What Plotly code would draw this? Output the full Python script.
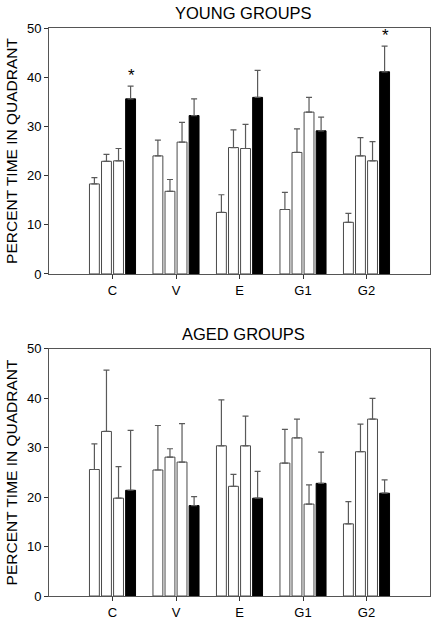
import plotly.graph_objects as go

categories = ["C", "V", "E", "G1", "G2"]

# Young groups: four series (three white, last black)
young_s1 = [18.3, 24.0, 12.5, 13.1, 10.5]
young_s1_err = [1.3, 3.2, 3.6, 3.5, 1.8]
young_s2 = [22.9, 16.8, 25.7, 24.7, 24.0]
young_s2_err = [1.4, 2.4, 3.6, 4.8, 3.7]
young_s3 = [23.0, 26.8, 25.5, 32.9, 23.0]
young_s3_err = [2.5, 4.0, 4.9, 3.0, 3.9]
young_s4 = [35.6, 32.2, 35.9, 29.1, 41.1]
young_s4_err = [2.6, 3.4, 5.5, 2.8, 5.2]
young_stars = ["*", "", "", "", "*"]

# Aged groups
aged_s1 = [25.6, 25.5, 30.4, 26.9, 14.6]
aged_s1_err = [5.2, 9.0, 9.3, 6.8, 4.5]
aged_s2 = [33.3, 28.1, 22.2, 32.0, 29.2]
aged_s2_err = [12.4, 1.7, 2.4, 3.8, 5.6]
aged_s3 = [19.8, 27.1, 30.4, 18.6, 35.8]
aged_s3_err = [6.4, 7.8, 6.0, 3.9, 4.2]
aged_s4 = [21.4, 18.3, 19.8, 22.8, 20.8]
aged_s4_err = [12.1, 1.8, 5.4, 6.3, 2.7]

panel_titles = ["YOUNG GROUPS", "AGED GROUPS"]
y_title = "PERCENT TIME IN QUADRANT"

FONT = "Liberation Sans, Arial, sans-serif"
EDGE = "#4a4a4a"
ERRC = "#5a5a5a"

fig = go.Figure()

def add_panel(series, errs, xa, ya):
    fills = ["white", "white", "white", "black"]
    for i, (vals, err) in enumerate(zip(series, errs)):
        fig.add_trace(go.Bar(
            x=categories, y=vals,
            marker=dict(color=fills[i], line=dict(color=EDGE if i < 3 else "black", width=1)),
            error_y=dict(type="data", array=err, symmetric=False, arrayminus=[0] * len(err),
                         color=ERRC, thickness=1.2, width=3),
            offsetgroup=f"{ya}{i}", xaxis=xa, yaxis=ya, showlegend=False,
        ))

add_panel([young_s1, young_s2, young_s3, young_s4],
          [young_s1_err, young_s2_err, young_s3_err, young_s4_err], "x", "y")
add_panel([aged_s1, aged_s2, aged_s3, aged_s4],
          [aged_s1_err, aged_s2_err, aged_s3_err, aged_s4_err], "x2", "y2")

axis_common = dict(showline=True, linecolor="#555", linewidth=1, mirror=True,
                   ticks="outside", ticklen=4, tickcolor="#333", automargin=False,
                   tickfont=dict(family=FONT, size=13, color="black"),
                   showgrid=False, zeroline=False)

fig.update_layout(
    width=432, height=618,
    margin=dict(l=49, r=2, t=28, b=22),
    paper_bgcolor="white", plot_bgcolor="white",
    barmode="group", bargap=0.24, bargroupgap=0.18,
    font=dict(family=FONT, color="black"),
    xaxis=dict(domain=[0, 1], anchor="y", range=[-1, 5], **axis_common),
    yaxis=dict(domain=[0.567, 1.0], anchor="x", range=[0, 50], dtick=10, **axis_common,
               title=dict(text=y_title, font=dict(family=FONT, size=15.5), standoff=5)),
    xaxis2=dict(domain=[0, 1], anchor="y2", range=[-1, 5], **axis_common),
    yaxis2=dict(domain=[0, 0.435], anchor="x2", range=[0, 50], dtick=10, **axis_common,
                title=dict(text=y_title, font=dict(family=FONT, size=15.5), standoff=5)),
)

# panel titles
fig.add_annotation(text=panel_titles[0], xref="paper", yref="paper", x=0.51, y=1.0,
                   yanchor="bottom", yshift=4, showarrow=False, font=dict(family=FONT, size=16.5))
fig.add_annotation(text=panel_titles[1], xref="paper", yref="paper", x=0.51, y=0.435,
                   yanchor="bottom", yshift=4, showarrow=False, font=dict(family=FONT, size=16.5))

# significance stars above black bars
for cat, v, e, s in zip(categories, young_s4, young_s4_err, young_stars):
    if s:
        fig.add_annotation(text=s, x=cat, y=v + e, xref="x", yref="y", xshift=18.5,
                           yanchor="bottom", yshift=-1, showarrow=False,
                           font=dict(family=FONT, size=17))

fig.write_html("out.html", config={"displayModeBar": False},
               post_script="document.body.style.margin='0';")
